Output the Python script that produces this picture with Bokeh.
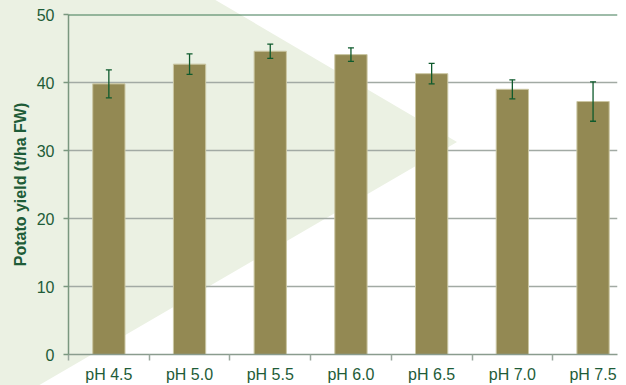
from urllib.parse import quote
from bokeh.plotting import figure
from bokeh.models import (ColumnDataSource, Range1d, FixedTicker, CustomJSTickFormatter,
                          Whisker, TeeHead, Span)
from bokeh.embed import file_html
from bokeh.resources import INLINE

# ---- data ----
categories = ["pH 4.5", "pH 5.0", "pH 5.5", "pH 6.0", "pH 6.5", "pH 7.0", "pH 7.5"]
yields = [39.8, 42.7, 44.6, 44.1, 41.3, 39.0, 37.2]
errors = [2.05, 1.5, 1.05, 1.0, 1.5, 1.4, 2.9]
y_ticks = [0, 10, 20, 30, 40, 50]

x_pos = [i + 0.5 for i in range(len(categories))]
src = ColumnDataSource(dict(
    x=x_pos, top=yields,
    upper=[v + e for v, e in zip(yields, errors)],
    lower=[v - e for v, e in zip(yields, errors)],
))

W, H = 626, 385
LEFT, RIGHT, TOP, BOTTOM = 68, 9, 14, 30
frame_w = W - LEFT - RIGHT
x_end = frame_w / 80.7

TXT = "#1e5c38"
FONT = "Liberation Sans"
BG_GREEN = "#ebf1e3"

p = figure(width=W, height=H, output_backend="svg", toolbar_location=None,
           x_range=Range1d(0, x_end), y_range=Range1d(0, 50),
           min_border_left=LEFT, min_border_right=RIGHT,
           min_border_top=TOP, min_border_bottom=BOTTOM)
p.background_fill_color = None
p.border_fill_color = None
p.outline_line_color = None

# decorative pale-green arrow shape behind the whole chart (page decoration)
svg_bg = ("<svg xmlns='http://www.w3.org/2000/svg' width='%d' height='%d'>"
          "<polygon points='-2,-2 212,-2 457,142 36,387 -2,387' fill='%s'/></svg>"
          % (W, H, BG_GREEN))
p.styles = {
    "background-color": "white",
    "background-image": 'url("data:image/svg+xml;utf8,%s")' % quote(svg_bg),
    "background-repeat": "no-repeat",
}

# bars
p.vbar(x="x", top="top", width=0.40, bottom=0, source=src,
       fill_color="#938953", line_color="#cbc7a3", line_width=1)

# error bars
wh = Whisker(base="x", upper="upper", lower="lower", source=src,
             line_color="#0e5a2c", line_width=1.3, level="annotation",
             upper_head=TeeHead(size=6, line_color="#0e5a2c", line_width=1.3),
             lower_head=TeeHead(size=6, line_color="#0e5a2c", line_width=1.3))
p.add_layout(wh)

# top line at 50
p.add_layout(Span(location=50, dimension="width", line_color="#3f7a55", line_width=2))

# grids
p.xgrid.grid_line_color = None
p.ygrid.ticker = FixedTicker(ticks=[10, 20, 30, 40])
p.ygrid.grid_line_color = "#a2aaa4"
p.ygrid.grid_line_width = 1.5

# y axis
p.yaxis.ticker = FixedTicker(ticks=y_ticks)
p.yaxis.axis_label = "Potato yield (t/ha FW)"
p.yaxis.axis_label_text_font = FONT
p.yaxis.axis_label_text_font_style = "bold"
p.yaxis.axis_label_text_font_size = "16px"
p.yaxis.axis_label_text_color = TXT
p.yaxis.axis_label_standoff = 5
p.yaxis.major_label_text_font = FONT
p.yaxis.major_label_text_font_size = "16px"
p.yaxis.major_label_text_color = TXT
p.yaxis.major_label_standoff = 9
p.yaxis.axis_line_color = "#7a977f"
p.yaxis.axis_line_width = 1.5
p.yaxis.major_tick_line_color = "#7a977f"
p.yaxis.major_tick_line_width = 1.5
p.yaxis.major_tick_out = 5
p.yaxis.major_tick_in = 0
p.yaxis.minor_tick_line_color = None

# x axis
p.xaxis.ticker = FixedTicker(ticks=x_pos, minor_ticks=list(range(len(categories) + 1)))
p.xaxis.formatter = CustomJSTickFormatter(args=dict(labels=categories),
                                          code="return labels[Math.floor(tick)];")
p.xaxis.major_label_text_font = FONT
p.xaxis.major_label_text_font_size = "16px"
p.xaxis.major_label_text_color = TXT
p.xaxis.major_label_standoff = 5
p.xaxis.major_tick_out = 0
p.xaxis.major_tick_in = 0
p.xaxis.major_tick_line_color = None
p.xaxis.minor_tick_line_color = "#9aa89e"
p.xaxis.minor_tick_line_width = 1.5
p.xaxis.minor_tick_out = 6
p.xaxis.minor_tick_in = 0
p.xaxis.axis_line_color = "#8a9c8e"
p.xaxis.axis_line_width = 1.5

open("out.html", "w").write(file_html(p, INLINE))
